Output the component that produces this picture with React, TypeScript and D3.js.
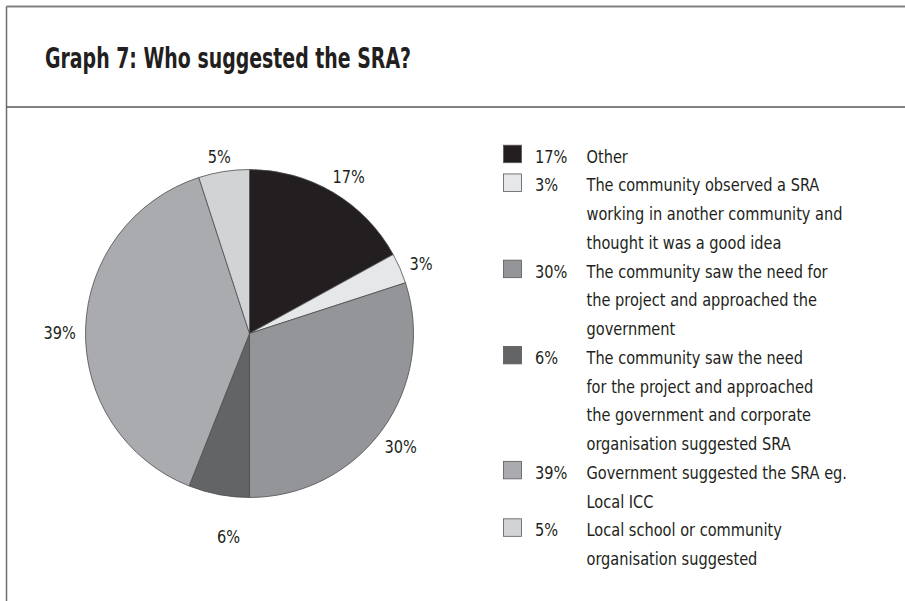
import React from "react";
import * as d3 from "d3";

const categories = [
  "Other",
  "The community observed a SRA working in another community and thought it was a good idea",
  "The community saw the need for the project and approached the government",
  "The community saw the need for the project and approached the government and corporate organisation suggested SRA",
  "Government suggested the SRA eg. Local ICC",
  "Local school or community organisation suggested",
];
const values = [17, 3, 30, 6, 39, 5];
const legendLines = [
  ["Other"],
  ["The community observed a SRA", "working in another community and", "thought it was a good idea"],
  ["The community saw the need for", "the project and approached the", "government"],
  ["The community saw the need", "for the project and approached", "the government and corporate", "organisation suggested SRA"],
  ["Government suggested the SRA eg.", "Local ICC"],
  ["Local school or community", "organisation suggested"],
];
const colors = ["#231f20", "#e6e7e8", "#939598", "#636466", "#a9abae", "#d1d3d4"];
const title = "Graph 7: Who suggested the SRA?";

const W = 905;
const H = 601;
const FONT = "'DejaVu Sans Condensed', 'Liberation Sans Narrow', 'Roboto Condensed', 'Open Sans', sans-serif";
const TEXT = "#231f20";
const SX = 0.9; // horizontal condensing of body text
// small manual nudges of the pie labels (layout only)
const labelNudge: [number, number][] = [
  [4, 4],
  [0, 4],
  [0, 3],
  [14, 20],
  [-3, 5],
  [-1, 8],
];

export default function App() {
  const cx = 249.5;
  const cy = 333.5;
  const r = 164;
  const pie = d3.pie<number>().sort(null).value((d) => d);
  const arcs = pie(values);
  const arc = d3.arc<d3.PieArcDatum<number>>().innerRadius(0).outerRadius(r);
  const labelArc = d3.arc<d3.PieArcDatum<number>>().innerRadius(187).outerRadius(187);

  const lineStep = 28.74;
  const firstBaseline = 162.7;
  let lineIdx = 0;
  const legendItems = legendLines.map((lines, i) => {
    const start = lineIdx;
    lineIdx += lines.length;
    return { i, lines, start };
  });

  return (
    <svg
      width={W}
      height={H}
      style={{ position: "absolute", left: 0, top: 0, background: "#fff" }}
      fontFamily={FONT}
    >
      <rect x={0} y={0} width={W} height={H} fill="#fff" />
      {/* frame */}
      <line x1={6.5} y1={6.5} x2={W} y2={6.5} stroke="#808285" strokeWidth={2} />
      <line x1={6.5} y1={6.5} x2={6.5} y2={H} stroke="#6d6e71" strokeWidth={1.5} />
      <line x1={6.5} y1={107} x2={W} y2={107} stroke="#58595b" strokeWidth={1.5} />
      <text
        x={45}
        y={68.3}
        fontSize={28}
        fontWeight="bold"
        fill={TEXT}
        textLength={366}
        lengthAdjust="spacingAndGlyphs"
      >
        {title}
      </text>

      {/* pie */}
      <g transform={`translate(${cx},${cy})`}>
        {arcs.map((a, i) => (
          <path key={i} d={arc(a) || ""} fill={colors[i]} stroke="#4d4d4f" strokeWidth={0.8} />
        ))}
        {arcs.map((a, i) => {
          const [x, y] = labelArc.centroid(a);
          const [nx, ny] = labelNudge[i];
          return (
            <text
              key={"l" + i}
              transform={`translate(${x + nx},${y + ny}) scale(${SX},1)`}
              textAnchor="middle"
              dominantBaseline="central"
              fontSize={18}
              fill={TEXT}
            >
              {values[i]}%
            </text>
          );
        })}
      </g>

      {/* legend */}
      {legendItems.map(({ i, lines, start }) => {
        const by = firstBaseline + start * lineStep;
        return (
          <g key={"lg" + i}>
            <rect
              x={503.5}
              y={by - 17.5}
              width={18}
              height={17.5}
              fill={colors[i]}
              stroke="#58595b"
              strokeWidth={0.8}
            />
            <text transform={`translate(535,${by}) scale(${SX},1)`} fontSize={18} fill={TEXT}>
              {values[i]}%
            </text>
            {lines.map((ln, k) => (
              <text
                key={k}
                transform={`translate(586.5,${by + k * lineStep}) scale(${SX},1)`}
                fontSize={18}
                fill={TEXT}
              >
                {ln}
              </text>
            ))}
          </g>
        );
      })}
    </svg>
  );
}
